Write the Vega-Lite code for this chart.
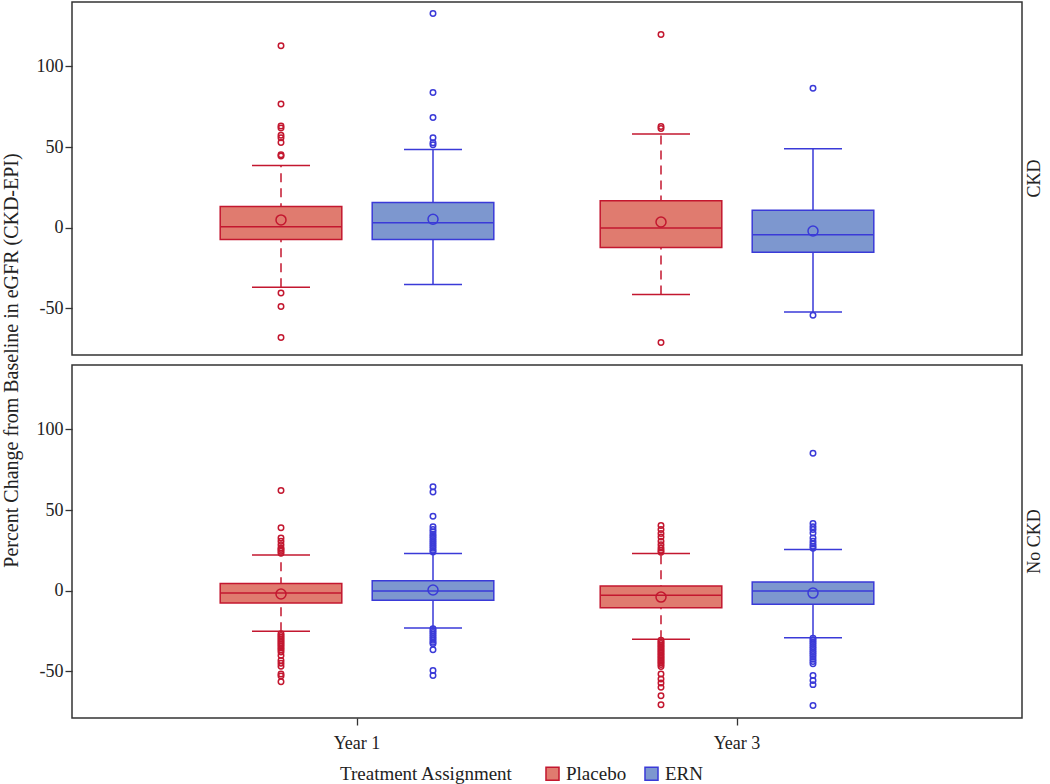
{
  "$schema": "https://vega.github.io/schema/vega-lite/v6.json",
  "padding": {"left": 0, "top": 1, "right": 0, "bottom": 0},
  "background": "white",
  "datasets": {
    "stats": [
      {"group": "CKD", "year": "Year 1", "treatment": "Placebo", "lo": -37, "q1": -7.3, "median": 0.6, "q3": 13.1, "hi": 38.5, "mean": 4.8},
      {"group": "CKD", "year": "Year 1", "treatment": "ERN", "lo": -35.2, "q1": -7.3, "median": 3.1, "q3": 15.6, "hi": 48.5, "mean": 5.2},
      {"group": "CKD", "year": "Year 3", "treatment": "Placebo", "lo": -41.5, "q1": -12.3, "median": -0.2, "q3": 16.7, "hi": 58.1, "mean": 3.5},
      {"group": "CKD", "year": "Year 3", "treatment": "ERN", "lo": -52.3, "q1": -15.2, "median": -4.4, "q3": 10.8, "hi": 48.9, "mean": -2.1},
      {"group": "No CKD", "year": "Year 1", "treatment": "Placebo", "lo": -25.2, "q1": -7.7, "median": -1.5, "q3": 4.4, "hi": 22.1, "mean": -2.1},
      {"group": "No CKD", "year": "Year 1", "treatment": "ERN", "lo": -23.1, "q1": -6.0, "median": -0.2, "q3": 6.2, "hi": 23.1, "mean": 0.4},
      {"group": "No CKD", "year": "Year 3", "treatment": "Placebo", "lo": -30.2, "q1": -10.6, "median": -2.9, "q3": 2.9, "hi": 23.1, "mean": -4.0},
      {"group": "No CKD", "year": "Year 3", "treatment": "ERN", "lo": -29.2, "q1": -8.5, "median": -0.2, "q3": 5.4, "hi": 25.6, "mean": -1.5}
    ],
    "strips": [{"group": "CKD"}, {"group": "No CKD"}],
    "outliers": [
      {"group": "CKD", "year": "Year 1", "treatment": "Placebo", "value": 112.9},
      {"group": "CKD", "year": "Year 1", "treatment": "Placebo", "value": 76.7},
      {"group": "CKD", "year": "Year 1", "treatment": "Placebo", "value": 63.1},
      {"group": "CKD", "year": "Year 1", "treatment": "Placebo", "value": 61.9},
      {"group": "CKD", "year": "Year 1", "treatment": "Placebo", "value": 57.3},
      {"group": "CKD", "year": "Year 1", "treatment": "Placebo", "value": 55.8},
      {"group": "CKD", "year": "Year 1", "treatment": "Placebo", "value": 52.9},
      {"group": "CKD", "year": "Year 1", "treatment": "Placebo", "value": 45.2},
      {"group": "CKD", "year": "Year 1", "treatment": "Placebo", "value": 44.5},
      {"group": "CKD", "year": "Year 1", "treatment": "Placebo", "value": -40.6},
      {"group": "CKD", "year": "Year 1", "treatment": "Placebo", "value": -48.9},
      {"group": "CKD", "year": "Year 1", "treatment": "Placebo", "value": -68.1},
      {"group": "CKD", "year": "Year 1", "treatment": "ERN", "value": 132.9},
      {"group": "CKD", "year": "Year 1", "treatment": "ERN", "value": 83.9},
      {"group": "CKD", "year": "Year 1", "treatment": "ERN", "value": 68.3},
      {"group": "CKD", "year": "Year 1", "treatment": "ERN", "value": 55.8},
      {"group": "CKD", "year": "Year 1", "treatment": "ERN", "value": 52.7},
      {"group": "CKD", "year": "Year 1", "treatment": "ERN", "value": 51.4},
      {"group": "CKD", "year": "Year 3", "treatment": "Placebo", "value": 119.8},
      {"group": "CKD", "year": "Year 3", "treatment": "Placebo", "value": 62.7},
      {"group": "CKD", "year": "Year 3", "treatment": "Placebo", "value": 61.5},
      {"group": "CKD", "year": "Year 3", "treatment": "Placebo", "value": -71.3},
      {"group": "CKD", "year": "Year 3", "treatment": "ERN", "value": 86.5},
      {"group": "CKD", "year": "Year 3", "treatment": "ERN", "value": -54.4},
      {"group": "No CKD", "year": "Year 1", "treatment": "Placebo", "value": 62.1},
      {"group": "No CKD", "year": "Year 1", "treatment": "Placebo", "value": 39},
      {"group": "No CKD", "year": "Year 1", "treatment": "Placebo", "value": 32.7},
      {"group": "No CKD", "year": "Year 1", "treatment": "Placebo", "value": 30.6},
      {"group": "No CKD", "year": "Year 1", "treatment": "Placebo", "value": 28.5},
      {"group": "No CKD", "year": "Year 1", "treatment": "Placebo", "value": 26.5},
      {"group": "No CKD", "year": "Year 1", "treatment": "Placebo", "value": 25.5},
      {"group": "No CKD", "year": "Year 1", "treatment": "Placebo", "value": 24.4},
      {"group": "No CKD", "year": "Year 1", "treatment": "Placebo", "value": 23.2},
      {"group": "No CKD", "year": "Year 1", "treatment": "Placebo", "value": -26.7},
      {"group": "No CKD", "year": "Year 1", "treatment": "Placebo", "value": -27.8},
      {"group": "No CKD", "year": "Year 1", "treatment": "Placebo", "value": -28.9},
      {"group": "No CKD", "year": "Year 1", "treatment": "Placebo", "value": -30},
      {"group": "No CKD", "year": "Year 1", "treatment": "Placebo", "value": -31},
      {"group": "No CKD", "year": "Year 1", "treatment": "Placebo", "value": -32.2},
      {"group": "No CKD", "year": "Year 1", "treatment": "Placebo", "value": -33.3},
      {"group": "No CKD", "year": "Year 1", "treatment": "Placebo", "value": -34.4},
      {"group": "No CKD", "year": "Year 1", "treatment": "Placebo", "value": -35.5},
      {"group": "No CKD", "year": "Year 1", "treatment": "Placebo", "value": -36.6},
      {"group": "No CKD", "year": "Year 1", "treatment": "Placebo", "value": -38},
      {"group": "No CKD", "year": "Year 1", "treatment": "Placebo", "value": -40.2},
      {"group": "No CKD", "year": "Year 1", "treatment": "Placebo", "value": -43.3},
      {"group": "No CKD", "year": "Year 1", "treatment": "Placebo", "value": -45},
      {"group": "No CKD", "year": "Year 1", "treatment": "Placebo", "value": -46.9},
      {"group": "No CKD", "year": "Year 1", "treatment": "Placebo", "value": -51.7},
      {"group": "No CKD", "year": "Year 1", "treatment": "Placebo", "value": -53},
      {"group": "No CKD", "year": "Year 1", "treatment": "Placebo", "value": -56.5},
      {"group": "No CKD", "year": "Year 1", "treatment": "ERN", "value": 64.4},
      {"group": "No CKD", "year": "Year 1", "treatment": "ERN", "value": 61.2},
      {"group": "No CKD", "year": "Year 1", "treatment": "ERN", "value": 46.2},
      {"group": "No CKD", "year": "Year 1", "treatment": "ERN", "value": 39.6},
      {"group": "No CKD", "year": "Year 1", "treatment": "ERN", "value": 37.9},
      {"group": "No CKD", "year": "Year 1", "treatment": "ERN", "value": 36.5},
      {"group": "No CKD", "year": "Year 1", "treatment": "ERN", "value": 35},
      {"group": "No CKD", "year": "Year 1", "treatment": "ERN", "value": 33.8},
      {"group": "No CKD", "year": "Year 1", "treatment": "ERN", "value": 32.5},
      {"group": "No CKD", "year": "Year 1", "treatment": "ERN", "value": 31.2},
      {"group": "No CKD", "year": "Year 1", "treatment": "ERN", "value": 30},
      {"group": "No CKD", "year": "Year 1", "treatment": "ERN", "value": 28.8},
      {"group": "No CKD", "year": "Year 1", "treatment": "ERN", "value": 27.5},
      {"group": "No CKD", "year": "Year 1", "treatment": "ERN", "value": 26.3},
      {"group": "No CKD", "year": "Year 1", "treatment": "ERN", "value": 25},
      {"group": "No CKD", "year": "Year 1", "treatment": "ERN", "value": 24},
      {"group": "No CKD", "year": "Year 1", "treatment": "ERN", "value": -23.6},
      {"group": "No CKD", "year": "Year 1", "treatment": "ERN", "value": -24.8},
      {"group": "No CKD", "year": "Year 1", "treatment": "ERN", "value": -26},
      {"group": "No CKD", "year": "Year 1", "treatment": "ERN", "value": -27.2},
      {"group": "No CKD", "year": "Year 1", "treatment": "ERN", "value": -28.4},
      {"group": "No CKD", "year": "Year 1", "treatment": "ERN", "value": -29.6},
      {"group": "No CKD", "year": "Year 1", "treatment": "ERN", "value": -30.8},
      {"group": "No CKD", "year": "Year 1", "treatment": "ERN", "value": -32},
      {"group": "No CKD", "year": "Year 1", "treatment": "ERN", "value": -33},
      {"group": "No CKD", "year": "Year 1", "treatment": "ERN", "value": -36.7},
      {"group": "No CKD", "year": "Year 1", "treatment": "ERN", "value": -49.5},
      {"group": "No CKD", "year": "Year 1", "treatment": "ERN", "value": -52.7},
      {"group": "No CKD", "year": "Year 3", "treatment": "Placebo", "value": 40.4},
      {"group": "No CKD", "year": "Year 3", "treatment": "Placebo", "value": 38},
      {"group": "No CKD", "year": "Year 3", "treatment": "Placebo", "value": 35.5},
      {"group": "No CKD", "year": "Year 3", "treatment": "Placebo", "value": 33.3},
      {"group": "No CKD", "year": "Year 3", "treatment": "Placebo", "value": 30.6},
      {"group": "No CKD", "year": "Year 3", "treatment": "Placebo", "value": 28.5},
      {"group": "No CKD", "year": "Year 3", "treatment": "Placebo", "value": 26.5},
      {"group": "No CKD", "year": "Year 3", "treatment": "Placebo", "value": 25},
      {"group": "No CKD", "year": "Year 3", "treatment": "Placebo", "value": 23.8},
      {"group": "No CKD", "year": "Year 3", "treatment": "Placebo", "value": -30.8},
      {"group": "No CKD", "year": "Year 3", "treatment": "Placebo", "value": -31.8},
      {"group": "No CKD", "year": "Year 3", "treatment": "Placebo", "value": -32.8},
      {"group": "No CKD", "year": "Year 3", "treatment": "Placebo", "value": -33.8},
      {"group": "No CKD", "year": "Year 3", "treatment": "Placebo", "value": -34.8},
      {"group": "No CKD", "year": "Year 3", "treatment": "Placebo", "value": -35.8},
      {"group": "No CKD", "year": "Year 3", "treatment": "Placebo", "value": -36.8},
      {"group": "No CKD", "year": "Year 3", "treatment": "Placebo", "value": -37.8},
      {"group": "No CKD", "year": "Year 3", "treatment": "Placebo", "value": -38.8},
      {"group": "No CKD", "year": "Year 3", "treatment": "Placebo", "value": -39.8},
      {"group": "No CKD", "year": "Year 3", "treatment": "Placebo", "value": -40.8},
      {"group": "No CKD", "year": "Year 3", "treatment": "Placebo", "value": -41.8},
      {"group": "No CKD", "year": "Year 3", "treatment": "Placebo", "value": -42.8},
      {"group": "No CKD", "year": "Year 3", "treatment": "Placebo", "value": -43.8},
      {"group": "No CKD", "year": "Year 3", "treatment": "Placebo", "value": -44.8},
      {"group": "No CKD", "year": "Year 3", "treatment": "Placebo", "value": -45.8},
      {"group": "No CKD", "year": "Year 3", "treatment": "Placebo", "value": -47},
      {"group": "No CKD", "year": "Year 3", "treatment": "Placebo", "value": -51.7},
      {"group": "No CKD", "year": "Year 3", "treatment": "Placebo", "value": -54.8},
      {"group": "No CKD", "year": "Year 3", "treatment": "Placebo", "value": -57.3},
      {"group": "No CKD", "year": "Year 3", "treatment": "Placebo", "value": -60},
      {"group": "No CKD", "year": "Year 3", "treatment": "Placebo", "value": -65.2},
      {"group": "No CKD", "year": "Year 3", "treatment": "Placebo", "value": -70.8},
      {"group": "No CKD", "year": "Year 3", "treatment": "ERN", "value": 85.2},
      {"group": "No CKD", "year": "Year 3", "treatment": "ERN", "value": 41.7},
      {"group": "No CKD", "year": "Year 3", "treatment": "ERN", "value": 39.6},
      {"group": "No CKD", "year": "Year 3", "treatment": "ERN", "value": 37.9},
      {"group": "No CKD", "year": "Year 3", "treatment": "ERN", "value": 35.8},
      {"group": "No CKD", "year": "Year 3", "treatment": "ERN", "value": 32.7},
      {"group": "No CKD", "year": "Year 3", "treatment": "ERN", "value": 30.6},
      {"group": "No CKD", "year": "Year 3", "treatment": "ERN", "value": 29},
      {"group": "No CKD", "year": "Year 3", "treatment": "ERN", "value": 27.5},
      {"group": "No CKD", "year": "Year 3", "treatment": "ERN", "value": 26.3},
      {"group": "No CKD", "year": "Year 3", "treatment": "ERN", "value": -29.5},
      {"group": "No CKD", "year": "Year 3", "treatment": "ERN", "value": -30.8},
      {"group": "No CKD", "year": "Year 3", "treatment": "ERN", "value": -32},
      {"group": "No CKD", "year": "Year 3", "treatment": "ERN", "value": -33.3},
      {"group": "No CKD", "year": "Year 3", "treatment": "ERN", "value": -34.6},
      {"group": "No CKD", "year": "Year 3", "treatment": "ERN", "value": -35.8},
      {"group": "No CKD", "year": "Year 3", "treatment": "ERN", "value": -37.1},
      {"group": "No CKD", "year": "Year 3", "treatment": "ERN", "value": -38.4},
      {"group": "No CKD", "year": "Year 3", "treatment": "ERN", "value": -39.6},
      {"group": "No CKD", "year": "Year 3", "treatment": "ERN", "value": -41},
      {"group": "No CKD", "year": "Year 3", "treatment": "ERN", "value": -42.5},
      {"group": "No CKD", "year": "Year 3", "treatment": "ERN", "value": -44},
      {"group": "No CKD", "year": "Year 3", "treatment": "ERN", "value": -45.4},
      {"group": "No CKD", "year": "Year 3", "treatment": "ERN", "value": -52.7},
      {"group": "No CKD", "year": "Year 3", "treatment": "ERN", "value": -55.8},
      {"group": "No CKD", "year": "Year 3", "treatment": "ERN", "value": -58.3},
      {"group": "No CKD", "year": "Year 3", "treatment": "ERN", "value": -71.3}
    ]
  },
  "columns": 2,
  "spacing": {"row": 10, "column": 0},
  "bounds": "flush",
  "concat": [
    {
      "width": 950,
      "height": 353,
      "encoding": {
        "x": {"field": "year", "type": "nominal", "scale": {"type": "band", "domain": ["Year 1", "Year 3"], "paddingInner": 0, "paddingOuter": 0.25}, "axis": null},
        "xOffset": {"field": "treatment", "type": "nominal", "scale": {"type": "band", "domain": ["Placebo", "ERN"], "paddingInner": 0.2, "paddingOuter": 0.35}}
      },
      "layer": [
        {
          "data": {"name": "stats"},
          "transform": [{"filter": "datum.group === 'CKD'"}],
          "mark": {"type": "rule", "strokeWidth": 1.5, "opacity": 1},
          "encoding": {
            "y": {"field": "lo", "type": "quantitative", "scale": {"domain": [-79, 140], "nice": false, "zero": false}, "axis": {"values": [-50, 0, 50, 100], "title": "Percent Change from Baseline in eGFR (CKD-EPI)", "titleY": 358}},
            "y2": {"field": "hi"},
            "color": {"field": "treatment", "type": "nominal", "scale": {"range": ["#3A3AD8", "#C3172F"]}, "legend": null},
            "strokeDash": {"field": "treatment", "type": "nominal", "scale": {"range": [[1, 0], [9, 6]]}, "legend": null}
          }
        },
        {
          "data": {"name": "stats"},
          "transform": [{"filter": "datum.group === 'CKD'"}],
          "mark": {"type": "bar", "strokeWidth": 1.5, "opacity": 1},
          "encoding": {
            "y": {"field": "q1", "type": "quantitative", "scale": {"domain": [-79, 140], "nice": false, "zero": false}, "axis": {"values": [-50, 0, 50, 100], "title": "Percent Change from Baseline in eGFR (CKD-EPI)", "titleY": 358}},
            "y2": {"field": "q3"},
            "fill": {"field": "treatment", "type": "nominal", "scale": {"domain": ["Placebo", "ERN"], "range": ["#E07B6F", "#7D97CF"]}, "title": "Treatment Assignment", "legend": {"orient": "none", "legendX": 268, "legendY": 762}},
            "stroke": {"field": "treatment", "type": "nominal", "scale": {"domain": ["Placebo", "ERN"], "range": ["#C3172F", "#3A3AD8"]}, "title": "Treatment Assignment", "legend": {"orient": "none", "legendX": 268, "legendY": 762}}
          }
        },
        {
          "data": {"name": "stats"},
          "transform": [{"filter": "datum.group === 'CKD'"}],
          "mark": {"type": "tick", "size": 121, "thickness": 1.5, "opacity": 1},
          "encoding": {
            "y": {"field": "median", "type": "quantitative", "scale": {"domain": [-79, 140], "nice": false, "zero": false}, "axis": {"values": [-50, 0, 50, 100], "title": "Percent Change from Baseline in eGFR (CKD-EPI)", "titleY": 358}},
            "color": {"field": "treatment", "type": "nominal", "scale": {"range": ["#3A3AD8", "#C3172F"]}, "legend": null}
          }
        },
        {
          "data": {"name": "stats"},
          "transform": [{"filter": "datum.group === 'CKD'"}],
          "mark": {"type": "tick", "size": 58, "thickness": 1.5, "opacity": 1},
          "encoding": {
            "y": {"field": "lo", "type": "quantitative", "scale": {"domain": [-79, 140], "nice": false, "zero": false}, "axis": {"values": [-50, 0, 50, 100], "title": "Percent Change from Baseline in eGFR (CKD-EPI)", "titleY": 358}},
            "color": {"field": "treatment", "type": "nominal", "scale": {"range": ["#3A3AD8", "#C3172F"]}, "legend": null}
          }
        },
        {
          "data": {"name": "stats"},
          "transform": [{"filter": "datum.group === 'CKD'"}],
          "mark": {"type": "tick", "size": 58, "thickness": 1.5, "opacity": 1},
          "encoding": {
            "y": {"field": "hi", "type": "quantitative", "scale": {"domain": [-79, 140], "nice": false, "zero": false}, "axis": {"values": [-50, 0, 50, 100], "title": "Percent Change from Baseline in eGFR (CKD-EPI)", "titleY": 358}},
            "color": {"field": "treatment", "type": "nominal", "scale": {"range": ["#3A3AD8", "#C3172F"]}, "legend": null}
          }
        },
        {
          "data": {"name": "stats"},
          "transform": [{"filter": "datum.group === 'CKD'"}],
          "mark": {"type": "point", "filled": false, "size": 100, "strokeWidth": 1.5, "opacity": 1},
          "encoding": {
            "y": {"field": "mean", "type": "quantitative", "scale": {"domain": [-79, 140], "nice": false, "zero": false}, "axis": {"values": [-50, 0, 50, 100], "title": "Percent Change from Baseline in eGFR (CKD-EPI)", "titleY": 358}},
            "color": {"field": "treatment", "type": "nominal", "scale": {"range": ["#3A3AD8", "#C3172F"]}, "legend": null}
          }
        },
        {
          "data": {"name": "outliers"},
          "transform": [{"filter": "datum.group === 'CKD'"}],
          "mark": {"type": "point", "filled": false, "size": 30, "strokeWidth": 1.5, "opacity": 1},
          "encoding": {
            "y": {"field": "value", "type": "quantitative", "scale": {"domain": [-79, 140], "nice": false, "zero": false}, "axis": {"values": [-50, 0, 50, 100], "title": "Percent Change from Baseline in eGFR (CKD-EPI)", "titleY": 358}},
            "color": {"field": "treatment", "type": "nominal", "scale": {"range": ["#3A3AD8", "#C3172F"]}, "legend": null}
          }
        }
      ]
    },
    {
      "width": 25,
      "height": 353,
      "data": {"name": "strips"},
      "transform": [{"filter": "datum.group === 'CKD'"}],
      "mark": {"type": "text", "angle": 270, "fontSize": 18, "font": "Liberation Serif", "color": "#222"},
      "encoding": {"text": {"field": "group", "type": "nominal"}}
    },
    {
      "width": 950,
      "height": 353,
      "encoding": {
        "x": {"field": "year", "type": "nominal", "scale": {"type": "band", "domain": ["Year 1", "Year 3"], "paddingInner": 0, "paddingOuter": 0.25}, "axis": {"title": null, "labelAngle": 0, "labelPadding": 9}},
        "xOffset": {"field": "treatment", "type": "nominal", "scale": {"type": "band", "domain": ["Placebo", "ERN"], "paddingInner": 0.2, "paddingOuter": 0.35}}
      },
      "layer": [
        {
          "data": {"name": "stats"},
          "transform": [{"filter": "datum.group === 'No CKD'"}],
          "mark": {"type": "rule", "strokeWidth": 1.5, "opacity": 1},
          "encoding": {
            "y": {"field": "lo", "type": "quantitative", "scale": {"domain": [-79, 140], "nice": false, "zero": false}, "axis": {"values": [-50, 0, 50, 100], "title": null}},
            "y2": {"field": "hi"},
            "color": {"field": "treatment", "type": "nominal", "scale": {"range": ["#3A3AD8", "#C3172F"]}, "legend": null},
            "strokeDash": {"field": "treatment", "type": "nominal", "scale": {"range": [[1, 0], [9, 6]]}, "legend": null}
          }
        },
        {
          "data": {"name": "stats"},
          "transform": [{"filter": "datum.group === 'No CKD'"}],
          "mark": {"type": "bar", "strokeWidth": 1.5, "opacity": 1},
          "encoding": {
            "y": {"field": "q1", "type": "quantitative", "scale": {"domain": [-79, 140], "nice": false, "zero": false}, "axis": {"values": [-50, 0, 50, 100], "title": null}},
            "y2": {"field": "q3"},
            "fill": {"field": "treatment", "type": "nominal", "scale": {"domain": ["Placebo", "ERN"], "range": ["#E07B6F", "#7D97CF"]}, "title": "Treatment Assignment", "legend": {"orient": "none", "legendX": 268, "legendY": 762}},
            "stroke": {"field": "treatment", "type": "nominal", "scale": {"domain": ["Placebo", "ERN"], "range": ["#C3172F", "#3A3AD8"]}, "title": "Treatment Assignment", "legend": {"orient": "none", "legendX": 268, "legendY": 762}}
          }
        },
        {
          "data": {"name": "stats"},
          "transform": [{"filter": "datum.group === 'No CKD'"}],
          "mark": {"type": "tick", "size": 121, "thickness": 1.5, "opacity": 1},
          "encoding": {
            "y": {"field": "median", "type": "quantitative", "scale": {"domain": [-79, 140], "nice": false, "zero": false}, "axis": {"values": [-50, 0, 50, 100], "title": null}},
            "color": {"field": "treatment", "type": "nominal", "scale": {"range": ["#3A3AD8", "#C3172F"]}, "legend": null}
          }
        },
        {
          "data": {"name": "stats"},
          "transform": [{"filter": "datum.group === 'No CKD'"}],
          "mark": {"type": "tick", "size": 58, "thickness": 1.5, "opacity": 1},
          "encoding": {
            "y": {"field": "lo", "type": "quantitative", "scale": {"domain": [-79, 140], "nice": false, "zero": false}, "axis": {"values": [-50, 0, 50, 100], "title": null}},
            "color": {"field": "treatment", "type": "nominal", "scale": {"range": ["#3A3AD8", "#C3172F"]}, "legend": null}
          }
        },
        {
          "data": {"name": "stats"},
          "transform": [{"filter": "datum.group === 'No CKD'"}],
          "mark": {"type": "tick", "size": 58, "thickness": 1.5, "opacity": 1},
          "encoding": {
            "y": {"field": "hi", "type": "quantitative", "scale": {"domain": [-79, 140], "nice": false, "zero": false}, "axis": {"values": [-50, 0, 50, 100], "title": null}},
            "color": {"field": "treatment", "type": "nominal", "scale": {"range": ["#3A3AD8", "#C3172F"]}, "legend": null}
          }
        },
        {
          "data": {"name": "stats"},
          "transform": [{"filter": "datum.group === 'No CKD'"}],
          "mark": {"type": "point", "filled": false, "size": 100, "strokeWidth": 1.5, "opacity": 1},
          "encoding": {
            "y": {"field": "mean", "type": "quantitative", "scale": {"domain": [-79, 140], "nice": false, "zero": false}, "axis": {"values": [-50, 0, 50, 100], "title": null}},
            "color": {"field": "treatment", "type": "nominal", "scale": {"range": ["#3A3AD8", "#C3172F"]}, "legend": null}
          }
        },
        {
          "data": {"name": "outliers"},
          "transform": [{"filter": "datum.group === 'No CKD'"}],
          "mark": {"type": "point", "filled": false, "size": 30, "strokeWidth": 1.5, "opacity": 1},
          "encoding": {
            "y": {"field": "value", "type": "quantitative", "scale": {"domain": [-79, 140], "nice": false, "zero": false}, "axis": {"values": [-50, 0, 50, 100], "title": null}},
            "color": {"field": "treatment", "type": "nominal", "scale": {"range": ["#3A3AD8", "#C3172F"]}, "legend": null}
          }
        }
      ]
    },
    {
      "width": 25,
      "height": 353,
      "data": {"name": "strips"},
      "transform": [{"filter": "datum.group === 'No CKD'"}],
      "mark": {"type": "text", "angle": 270, "fontSize": 18, "font": "Liberation Serif", "color": "#222"},
      "encoding": {"text": {"field": "group", "type": "nominal"}}
    }
  ],
  "config": {
    "font": "Liberation Serif",
    "view": {"stroke": "#333", "strokeWidth": 1.5},
    "axis": {
      "labelFont": "Liberation Serif", "titleFont": "Liberation Serif",
      "labelFontSize": 18, "titleFontSize": 20, "titleFontWeight": "normal",
      "labelColor": "#222", "titleColor": "#222",
      "tickColor": "#333", "tickSize": 7, "tickWidth": 1.3,
      "domain": false, "grid": false
    },
    "axisY": {"titlePadding": 15, "labelExpr": "replace(datum.label, '−', '-')"},
    "legend": {
      "direction": "horizontal", "titleOrient": "left",
      "symbolType": "square", "symbolSize": 170, "symbolStrokeWidth": 1.5,
      "labelFont": "Liberation Serif", "titleFont": "Liberation Serif",
      "labelFontSize": 19, "titleFontSize": 19, "titleFontWeight": "normal",
      "labelColor": "#222", "titleColor": "#222",
      "titlePadding": 30, "columnPadding": 14, "labelOffset": 4
    }
  }
}
